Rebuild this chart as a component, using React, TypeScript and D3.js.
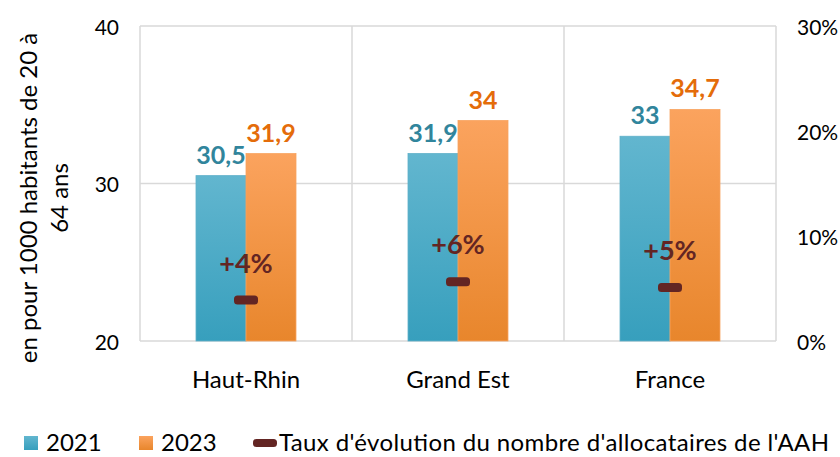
import React from 'react';
import * as d3 from 'd3';

const categories = ['Haut-Rhin', 'Grand Est', 'France'];
const values2021 = [30.5, 31.9, 33];
const values2023 = [31.9, 34, 34.7];
const rates = [0.039, 0.0565, 0.051];
const rateLabels = ['+4%', '+6%', '+5%'];
const leftTicks = [20, 30, 40];
const rightTicks = [0, 0.1, 0.2, 0.3];

const W = 840;
const H = 457;
const margin = { left: 140, right: 64, top: 26, bottom: 116 };
const FONT = 'Lato, "Open Sans", sans-serif';

const fmt = (v: number) => String(v).replace('.', ',');

const App: React.FC = () => {
  const x0 = margin.left;
  const x1 = W - margin.right;
  const yTop = margin.top;
  const yBot = H - margin.bottom;

  const x = d3.scaleBand<string>().domain(categories).range([x0, x1]).paddingInner(0).paddingOuter(0);
  const sub = d3.scaleBand<string>().domain(['2021', '2023']).range([0, 100]);
  const y = d3.scaleLinear().domain([20, 40]).range([yBot, yTop]);
  const yR = d3.scaleLinear().domain([0, 0.3]).range([yBot, yTop]);
  const bw = x.bandwidth();

  return (
    <svg width={W} height={H} style={{ position: 'absolute', left: 0, top: 0, fontFamily: FONT }}>
      <defs>
        <linearGradient id="gBlue" x1="0" y1="0" x2="0" y2="1">
          <stop offset="0" stopColor="#62b6cf" />
          <stop offset="1" stopColor="#379fbd" />
        </linearGradient>
        <linearGradient id="gOrange" x1="0" y1="0" x2="0" y2="1">
          <stop offset="0" stopColor="#fba35e" />
          <stop offset="1" stopColor="#e8862c" />
        </linearGradient>
      </defs>
      <rect width={W} height={H} fill="#fff" />

      {/* grid */}
      {leftTicks.map(t => (
        <line key={t} x1={x0} x2={x1} y1={y(t)} y2={y(t)} stroke="#d9d9d9" strokeWidth={1.5} />
      ))}
      {d3.range(categories.length + 1).map(i => {
        const xx = x0 + i * bw;
        return <line key={i} x1={xx} x2={xx} y1={yTop} y2={yBot} stroke="#d9d9d9" strokeWidth={1.5} />;
      })}

      {/* bars */}
      {categories.map((c, i) => {
        const cx = (x(c) as number) + bw / 2 - 50;
        return (
          <g key={c}>
            <rect x={cx + (sub('2021') as number)} y={y(values2021[i])} width={sub.bandwidth()}
              height={yBot - y(values2021[i])} fill="url(#gBlue)" stroke="#5fb0c9" strokeWidth={0.8} />
            <rect x={cx + (sub('2023') as number)} y={y(values2023[i])} width={sub.bandwidth()}
              height={yBot - y(values2023[i])} fill="url(#gOrange)" stroke="#f8a460" strokeWidth={0.8} />
            <text x={cx + (sub('2021') as number) + 25} y={y(values2021[i]) - 12} textAnchor="middle"
              fill="#31859c" fontSize={25} fontWeight="bold">{fmt(values2021[i])}</text>
            <text x={cx + (sub('2023') as number) + 25} y={y(values2023[i]) - 12} textAnchor="middle"
              fill="#e46c0a" fontSize={25} fontWeight="bold">{fmt(values2023[i])}</text>
            <rect x={cx + 50 - 12} y={yR(rates[i]) - 4.5} width={24} height={9} rx={3.5}
              fill="#632523" />
            <text x={cx + 50} y={yR(rates[i]) - 38} textAnchor="middle" dominantBaseline="central"
              fill="#632523" fontSize={27} fontWeight="bold">{rateLabels[i]}</text>
            <text x={cx + 50} y={378} textAnchor="middle" dominantBaseline="central"
              fill="#000" fontSize={24}>{c}</text>
          </g>
        );
      })}

      {/* left axis */}
      {leftTicks.map(t => (
        <text key={t} x={119} y={y(t)} textAnchor="end" dominantBaseline="central" fontSize={21}>{t}</text>
      ))}
      {/* right axis */}
      {rightTicks.map(t => (
        <text key={t} x={797} y={yR(t)} textAnchor="start" dominantBaseline="central" fontSize={21}>
          {d3.format('.0%')(t)}
        </text>
      ))}

      {/* axis title */}
      <g transform="translate(27,198) rotate(-90)">
        <text x={0} y={0} textAnchor="middle" dominantBaseline="central" fontSize={24}>en pour 1000 habitants de 20 à</text>
        <text x={0} y={31} textAnchor="middle" dominantBaseline="central" fontSize={24}>64 ans</text>
      </g>

      {/* legend */}
      <g fontSize={24}>
        <rect x={24} y={436} width={14} height={14} fill="url(#gBlue)" />
        <text x={46} y={441} dominantBaseline="central">2021</text>
        <rect x={139} y={436} width={14} height={14} fill="url(#gOrange)" />
        <text x={161} y={441} dominantBaseline="central">2023</text>
        <rect x={253} y={439} width={24} height={8} rx={3.5} fill="#632523" />
        <text x={279} y={441} dominantBaseline="central" textLength={550} lengthAdjust="spacing">Taux d'évolution du nombre d'allocataires de l'AAH</text>
      </g>
    </svg>
  );
};

export default App;
